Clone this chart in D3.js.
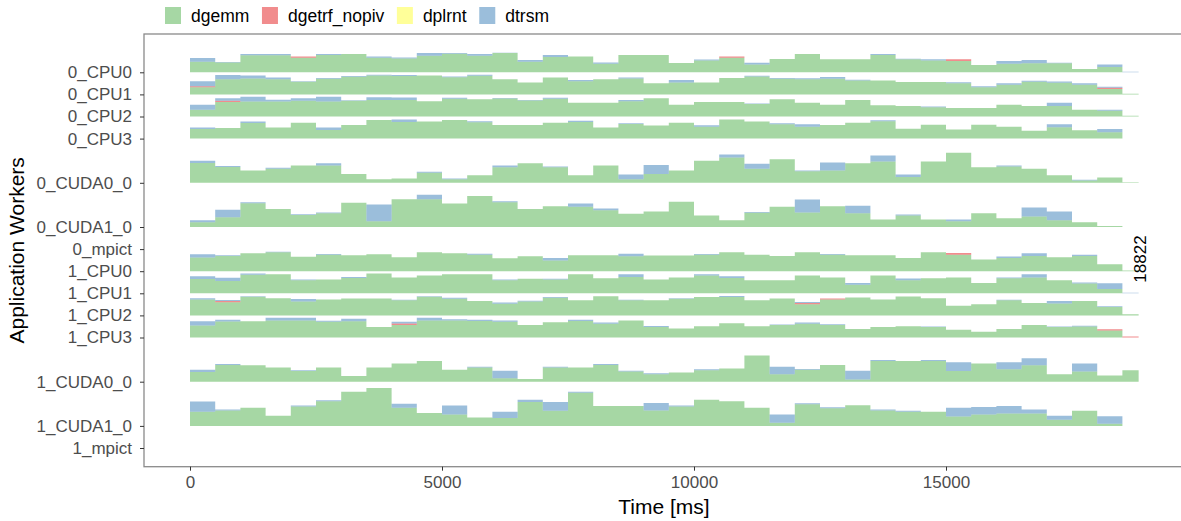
<!DOCTYPE html>
<html>
<head>
<meta charset="utf-8">
<script src="https://cdn.jsdelivr.net/npm/d3@7"></script>
<style>
  body { margin: 0; background: #fff; }
  text { font-family: "Liberation Sans", Arial, sans-serif; }
</style>
</head>
<body>
<svg id="chart" width="1181" height="521"></svg>
<script>
// workers, top to bottom
const workers = ["0_CPU0", "0_CPU1", "0_CPU2", "0_CPU3", "0_CUDA0_0", "0_CUDA1_0", "0_mpict",
                 "1_CPU0", "1_CPU1", "1_CPU2", "1_CPU3", "1_CUDA0_0", "1_CUDA1_0", "1_mpict"];
const taskTypes = ["dgemm", "dgetrf_nopiv", "dplrnt", "dtrsm"];
const taskColors = ["#4DAF4A", "#E41A1C", "#FFFF33", "#377EB8"];
const binSize = 500;      // ms per aggregation slice
const makespan = 18822;   // ms
const xTicks = [0, 5000, 10000, 15000];

// share of each 500 ms slice spent in each task (%), one list per worker
const dgemm = [
  [48,44,77,77,66,78,83,66,62,75,84,75,87,48,69,71,39,78,78,42,53,66,35,60,83,59,59,78,59,53,51,33,39,41,41,15,24,0],
  [32,68,72,68,57,71,80,86,83,86,78,84,68,54,77,60,68,72,51,54,54,74,81,71,68,71,63,63,56,56,50,32,44,57,53,44,24,3],
  [30,66,68,68,71,68,71,75,75,69,80,78,81,72,80,62,62,69,83,53,66,66,56,78,62,53,75,51,48,42,38,38,53,48,48,30,26,3],
  [44,48,71,50,72,39,62,84,75,77,84,74,62,62,72,75,50,66,59,72,54,86,77,65,54,62,72,78,45,63,41,63,54,35,51,38,29,0],
  [45,36,28,32,39,39,20,8,10,23,8,17,35,44,35,17,39,8,20,28,50,57,32,53,26,28,44,48,13,48,68,35,37,32,17,5,12,1],
  [11,22,54,41,27,31,55,13,63,63,53,70,56,41,47,46,38,30,35,57,26,15,32,46,33,47,31,17,26,17,13,31,20,24,15,11,2,0],
  [],
  [62,69,81,86,65,75,72,77,63,86,81,74,59,68,48,72,72,68,71,71,75,86,74,69,86,75,72,72,60,86,74,53,60,69,63,69,32,3],
  [65,56,84,86,59,63,69,90,71,81,86,86,59,66,63,86,68,74,63,72,80,69,59,59,81,72,39,81,59,68,72,47,68,72,59,44,20,0],
  [72,60,84,78,63,72,77,77,68,84,75,65,53,63,80,69,87,68,68,75,83,83,69,77,51,72,81,72,86,78,44,51,68,56,54,65,38,5],
  [54,72,74,77,77,71,74,47,57,77,77,75,71,56,69,75,62,77,47,41,51,65,51,56,62,57,39,47,51,47,35,26,39,56,47,50,32,0],
  [22,38,37,32,24,32,13,32,41,47,27,32,8,6,32,32,38,23,17,21,26,30,59,17,27,38,5,47,47,47,24,41,28,37,17,23,14,26],
  [32,35,41,23,44,56,77,86,41,29,26,19,18,54,34,75,45,45,35,44,59,56,41,7,49,40,47,35,32,32,21,26,28,28,14,34,5,0],
  []
];

const dtrsm = [
  [17,3,6,6,0,5,0,5,5,12,3,8,2,8,9,0,5,0,0,0,5,0,8,0,0,0,0,5,2,6,0,0,12,15,2,0,11,3],
  [23,20,14,9,3,3,3,3,5,0,3,5,0,0,0,5,0,5,0,11,0,0,3,3,5,8,3,0,0,0,5,5,6,5,5,6,5,0],
  [23,12,21,8,12,21,3,12,11,0,5,0,3,3,5,0,0,6,0,0,0,0,3,0,0,0,0,0,0,3,0,0,0,0,14,0,5,0],
  [6,0,6,0,0,11,0,0,11,0,0,5,0,0,0,6,0,3,0,0,6,0,0,5,11,0,0,5,0,0,0,0,0,0,14,0,14,0],
  [5,2,0,2,0,5,0,0,0,2,2,0,4,0,2,0,0,11,20,0,0,7,11,0,2,18,0,14,6,0,0,0,2,0,0,2,0,0],
  [4,17,2,0,2,2,0,38,0,10,0,0,2,0,0,7,4,0,0,0,0,0,2,0,29,0,17,0,2,0,4,0,0,20,20,0,0,0],
  [],
  [15,3,0,2,0,3,0,0,0,0,0,5,0,0,12,0,0,11,0,0,3,0,0,0,0,3,0,0,0,0,0,0,6,12,0,5,0,0],
  [12,14,6,0,3,0,5,0,0,0,0,0,3,0,3,0,0,12,0,0,6,8,0,0,0,0,8,0,8,0,0,0,3,14,0,5,26,3],
  [6,5,3,0,11,0,0,0,3,3,5,0,5,3,3,0,0,3,0,3,0,5,0,0,5,0,0,0,0,0,0,0,3,0,11,0,3,0],
  [20,8,0,12,12,5,11,0,8,12,6,5,6,0,0,5,6,0,5,0,0,0,0,3,6,3,0,0,0,3,0,0,0,0,3,3,0,0],
  [5,2,0,0,2,0,0,0,0,0,0,2,17,0,2,0,2,2,2,0,2,0,0,17,2,0,20,2,0,2,20,0,16,16,0,18,0,0],
  [23,2,0,0,2,2,0,0,9,0,20,0,14,5,20,2,0,0,17,2,0,0,0,19,2,2,0,2,2,0,20,17,17,9,9,0,17,0],
  []
];

// sparse: [worker, slice, %]
const dgetrf_nopiv = [
  ["0_CPU0", 4, 5], ["0_CPU0", 21, 6], ["0_CPU0", 30, 8],
  ["0_CPU1", 0, 5], ["0_CPU1", 36, 6],
  ["0_CPU2", 1, 5],
  ["1_CPU0", 30, 8],
  ["1_CPU2", 1, 5], ["1_CPU2", 24, 5], ["1_CPU2", 25, 5],
  ["1_CPU3", 8, 6], ["1_CPU3", 36, 5], ["1_CPU3", 37, 5]
];
const dplrnt = [];

const svg = d3.select('#chart');
const panel = { left: 144, top: 34, right: 1190, bottom: 466.7 };

// CUDA workers get twice the height of a CPU lane
const span = workers.map(w => w.includes('CUDA') ? 2 : 1);
const pos = [];
let acc = -1;
span.forEach(s => { acc += s; pos.push(acc); });

const x = d3.scaleLinear().domain([0, 15000]).range([190, 946]);
const y = d3.scaleLinear().domain([0, 17]).range([72.3, 448]);

const nBins = Math.ceil(makespan / binSize);

const g = svg.append('g');

// panel border
svg.append('rect')
  .attr('x', panel.left).attr('y', panel.top)
  .attr('width', panel.right - panel.left).attr('height', panel.bottom - panel.top)
  .attr('fill', 'none').attr('stroke', '#8a8a8a').attr('stroke-width', 1.3);

workers.forEach((w, wi) => {
  if (dgemm[wi].length == 0) return;
  let table = [];
  for (let i = 0; i < nBins; i++) {
    table.push({ t: i * binSize, dgemm: dgemm[wi][i], dgetrf_nopiv: 0, dplrnt: 0, dtrsm: dtrsm[wi][i] });
  }
  dgetrf_nopiv.filter(d => d[0] == w).forEach(d => { table[d[1]].dgetrf_nopiv = d[2]; });
  dplrnt.filter(d => d[0] == w).forEach(d => { table[d[1]].dplrnt = d[2]; });
  // closing point so the last slice stops at the makespan
  table.push(Object.assign({}, table[nBins - 1], { t: makespan }));

  const ry = d3.scaleLinear().domain([0, 100]).range([y(pos[wi]), y(pos[wi] - span[wi])]);
  const series = d3.stack().keys(taskTypes)(table);

  const area = d3.area()
    .curve(d3.curveStepAfter)
    .x(d => x(d.data.t))
    .y0(d => ry(d[0]))
    .y1(d => ry(d[1]));

  g.selectAll(null)
    .data(series)
    .enter().append('path')
    .attr('d', area)
    .attr('fill', (d, i) => taskColors[i])
    .attr('fill-opacity', 0.5);
});

// x axis
const xAxis = svg.append('g')
  .attr('transform', 'translate(0,' + panel.bottom + ')')
  .call(d3.axisBottom(x).tickValues(xTicks).tickFormat(d3.format('d')).tickSize(4).tickPadding(5));
xAxis.select('.domain').remove();
xAxis.selectAll('line').attr('stroke', '#333');
xAxis.selectAll('text').attr('fill', '#4d4d4d').style('font-size', '17px');

// y axis
const yAxis = svg.append('g')
  .attr('transform', 'translate(' + panel.left + ',0)')
  .call(d3.axisLeft(y).tickValues(pos).tickFormat((d, i) => workers[i]).tickSize(4).tickPadding(8));
yAxis.select('.domain').remove();
yAxis.selectAll('line').attr('stroke', '#333');
yAxis.selectAll('text').attr('fill', '#4d4d4d').style('font-size', '17px');

// axis titles
svg.append('text')
  .attr('x', 664).attr('y', 514)
  .attr('text-anchor', 'middle')
  .style('font-size', '21px')
  .text('Time [ms]');

svg.append('text')
  .attr('transform', 'translate(24,' + ((panel.top + panel.bottom) / 2) + ') rotate(-90)')
  .attr('text-anchor', 'middle')
  .style('font-size', '21px')
  .text('Application Workers');

// makespan label
svg.append('text')
  .attr('transform', 'translate(' + (x(makespan) + 1.5) + ',' + y(8.45) + ') rotate(-90)')
  .attr('text-anchor', 'middle')
  .attr('dominant-baseline', 'central')
  .style('font-size', '17px')
  .text(makespan);

// legend
const legend = svg.append('g');
let lx = 165;
taskTypes.forEach((t, i) => {
  legend.append('rect')
    .attr('x', lx).attr('y', 7)
    .attr('width', 16).attr('height', 17)
    .attr('fill', taskColors[i]).attr('fill-opacity', 0.5);
  const txt = legend.append('text')
    .attr('x', lx + 26).attr('y', 16)
    .attr('dominant-baseline', 'central')
    .style('font-size', '17.5px')
    .text(t);
  lx += 26 + txt.node().getComputedTextLength() + 12.6;
});
</script>
</body>
</html>
